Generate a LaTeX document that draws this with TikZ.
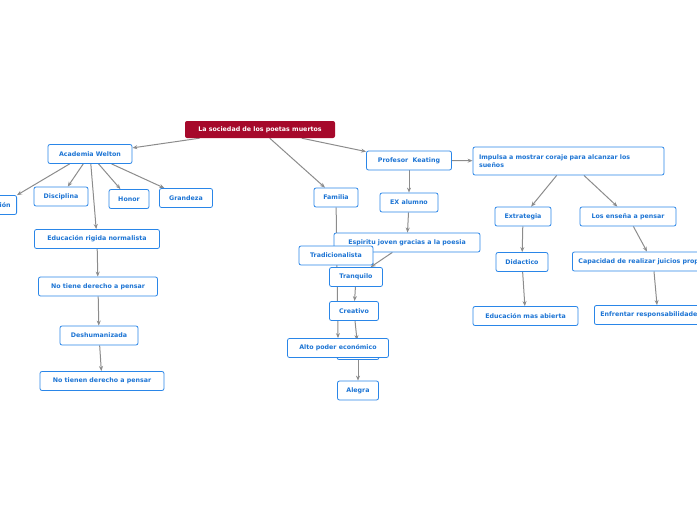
\documentclass[tikz,border=0pt]{standalone}
\usepackage{fontspec}
\setmainfont{DejaVu Sans}
\usetikzlibrary{arrows.meta}
\definecolor{bl}{HTML}{1C74D4}
\definecolor{bd}{HTML}{2A86E8}
\definecolor{rt}{HTML}{A6092B}
\definecolor{ln}{HTML}{8C8C8C}
\begin{document}
\begin{tikzpicture}[x=1pt,y=-1pt,
 box/.style={draw=bd,line width=0.8pt,rounded corners=2pt,fill=white,text=bl,font=\bfseries\fontsize{6.3}{7.5}\selectfont,minimum height=19pt,inner xsep=6pt,inner ysep=2pt},
 rootbox/.style={fill=rt,rounded corners=2pt,text=white,font=\bfseries\fontsize{6.3}{7.5}\selectfont,minimum height=17pt,minimum width=150pt},
 con/.style={draw=ln,line width=1pt,-{Stealth[length=5pt,width=4pt]}}]
\useasboundingbox (0,0) rectangle (697,520);
\clip (0,0) rectangle (697,520);
% nodes (edges drawn afterwards behind via layers)
\pgfdeclarelayer{bg}\pgfsetlayers{bg,main}
\node[rootbox] (root) at (260,129.5) {La sociedad de los poetas muertos};
\node[box,minimum width=84pt] (aw) at (90,154) {Academia Welton};
\node[box,anchor=east] (cut) at (17,205) {Tradición};
\node[box,minimum width=54pt] (dis) at (61,196.5) {Disciplina};
\node[box,minimum width=40pt] (hon) at (129,199) {Honor};
\node[box,minimum width=53pt] (gra) at (186,198) {Grandeza};
\node[box,minimum width=125pt] (erg) at (97,239) {Educación rigida normalista};
\node[box,minimum width=119pt] (ntd) at (98,286.5) {No tiene derecho a pensar};
\node[box,minimum width=78pt] (des) at (99,335.5) {Deshumanizada};
\node[box,minimum width=124pt] (ntn) at (102,381) {No tienen derecho a pensar};
\node[box,minimum width=44pt] (fam) at (336,197.5) {Familia};
\node[box,minimum width=85pt] (pk) at (409,160.5) {Profesor\ \ Keating};
\node[box,minimum width=58pt] (ex) at (409,202.5) {EX alumno};
\node[box,minimum width=146pt] (esp) at (407,242.5) {Espiritu joven gracias a la poesia};
\node[box,minimum width=74pt] (tra) at (336,255.5) {Tradicionalista};
\node[box,minimum width=53pt] (tq) at (356,277) {Tranquilo};
\node[box,minimum width=49pt] (cre) at (354,311) {Creativo};
\node[box,minimum width=42pt] (hid) at (358,350) {};
\node[box,minimum width=101pt] (alto) at (338,348) {Alto poder económico};
\node[box,minimum width=41pt] (ale) at (358,390.5) {Alegra};
\node[box,minimum width=191pt,minimum height=28pt,align=left,text width=179pt] (imp) at (568.5,161) {Impulsa a mostrar coraje para alcanzar los\\sueños};
\node[box,minimum width=56pt] (ext) at (523,216.5) {Extrategia};
\node[box,minimum width=96pt] (len) at (628,216.5) {Los enseña a pensar};
\node[box,minimum width=52pt] (did) at (522,262) {Didactico};
\node[box,anchor=west] (cap) at (572,261.5) {Capacidad de realizar juicios propios};
\node[box,minimum width=105pt] (ema) at (525.5,316) {Educación mas abierta};
\node[box,anchor=west] (enf) at (594,315) {Enfrentar responsabilidades};
\begin{pgfonlayer}{bg}
\draw[con] (root) -- (aw);
\draw[con] (root) -- (fam);
\draw[con] (root) -- (pk);
\draw[con] (aw.south west)++(22,0) -- (cut.north east);
\draw[con] (aw) -- (dis);
\draw[con] (aw) -- (hon);
\draw[con] (aw) -- (gra);
\draw[con] (aw) -- (erg);
\draw[con] (erg) -- (ntd);
\draw[con] (ntd) -- (des);
\draw[con] (des) -- (ntn);
\draw[con] (fam) -- (alto.north);
\draw[con] (pk) -- (ex);
\draw[con] (ex) -- (esp);
\draw[con] (esp) -- (tq);
\draw[con] (tq) -- (cre);
\draw[con] (cre) -- (hid);
\draw[con] (hid) -- (ale);
\draw[con] (pk) -- (imp);
\draw[con] (imp) -- (ext);
\draw[con] (imp) -- (len);
\draw[con] (ext) -- (did);
\draw[con] (did) -- (ema);
\draw[con] (len) -- (cap.north west -| 647,0);
\draw[con] (cap.south west -| 654,0) -- (enf.north west -| 657,0);
\end{pgfonlayer}
\end{tikzpicture}
\end{document}
